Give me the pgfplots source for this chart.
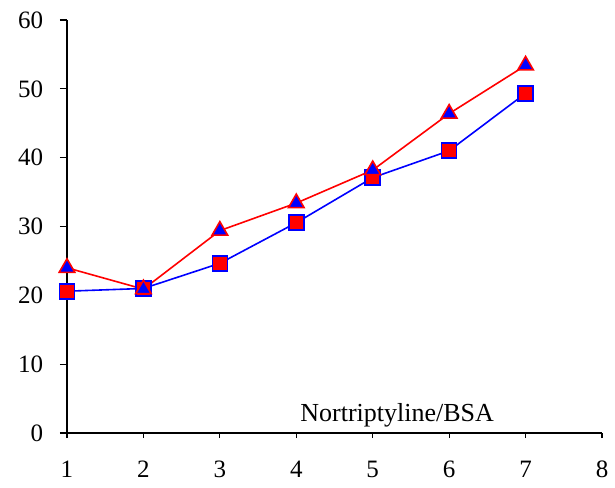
\documentclass[border=0pt]{standalone}
\usepackage{pgfplots}
\pgfplotsset{compat=1.18}
\usepackage{fontspec}
\setmainfont{Liberation Serif}
\begin{document}
\fontsize{26}{30}\selectfont
\begin{tikzpicture}
\begin{axis}[
  scale only axis,
  width=535pt, height=413pt,
  xmin=1, xmax=8, ymin=0, ymax=60,
  axis lines=left,
  axis line style={-, line width=1.2pt},
  xtick={1,...,8}, ytick={0,10,...,60},
  tick align=outside,
  major tick length=7pt,
  xtick style={black, line width=1.2pt, /pgfplots/major tick length=5pt},
  ytick style={black, line width=1.2pt},
  /pgf/number format/assume math mode=true,
  ticklabel style={font=\fontsize{25}{30}\selectfont},
  xticklabel style={yshift=-12pt},
  yticklabel style={xshift=-8pt},
  clip=false,
]
\addplot[blue, line width=1.6pt, mark=square*, mark size=7.5pt,
  mark options={fill=red, draw=blue, line width=1.6pt}]
  coordinates {(1,20.6) (2,21.0) (3,24.65) (4,30.55) (5,37.1) (6,41.0) (7,49.35)};
\addplot[red, line width=1.6pt, mark=triangle*, mark size=9pt,
  mark options={fill=blue, draw=red, line width=1.6pt}]
  coordinates {(1,24.0) (2,20.9) (3,29.4) (4,33.4) (5,38.2) (6,46.4) (7,53.4)};
\node[anchor=base, font=\fontsize{26}{30}\selectfont] at (axis cs:5.32,1.74) {Nortriptyline/BSA};
\end{axis}
\pgfresetboundingbox
\path (-67pt,-54pt) rectangle (548pt,433pt);
\end{tikzpicture}
\end{document}
